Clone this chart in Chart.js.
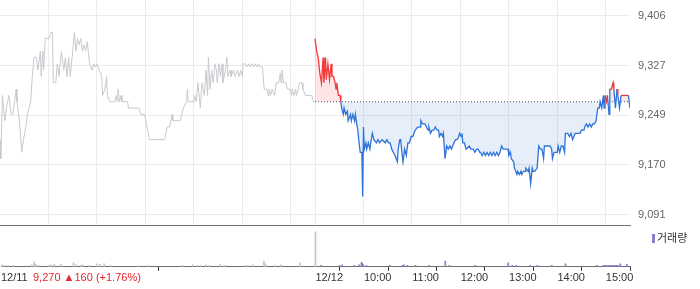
<!DOCTYPE html>
<html>
<head>
<meta charset="utf-8">
<script src="https://cdn.jsdelivr.net/npm/chart.js@4.4.1/dist/chart.umd.min.js"></script>
<style>
  body { margin: 0; background: #fff; width: 700px; height: 289px; overflow: hidden; position: relative; font-family: "Liberation Sans", Arial, sans-serif; }
  #main { position: absolute; left: 0; top: 0; }
  #vol { position: absolute; left: 0; top: 226px; }
  .chg { position: absolute; left: 33px; top: 271px; font-size: 11px; color: #e8262b; white-space: nowrap; }
  .lg { position: absolute; left: 652px; top: 229px; font-size: 11px; color: #333; font-family: "Noto Sans CJK KR", sans-serif; white-space: nowrap; }
  .lg i { display: inline-block; width: 3px; height: 9px; background: #8d7dc4; margin-right: 2px; vertical-align: -1px; }
</style>
</head>
<body>
<canvas id="main" width="700" height="226"></canvas>
<canvas id="vol" width="700" height="63"></canvas>
<div class="chg">9,270 ▲160 (+1.76%)</div>
<div class="lg"><i></i>거래량</div>
<script>
// 12/11 prices, minutes from 09:00
var day1Min = [0,1,3,6,8,11,14,16,20,21,24,27,29,32,34,36,38,40,42,45,47,50,51,53,54,56,58,61,63,65,66,69,71,73,76,79,81,83,85,87,90,92,94,96,98,100,102,104,106,108,111,114,116,118,120,123,126,127,130,132,133,136,142,144,145,146,148,150,151,158,159,172,174,179,182,184,185,204,207,210,213,214,223,225,227,231,232,233,240,241,243,245,248,250,253,255,257,258,260,262,264,266,268,269,271,273,275,276,279,281,282,285,286,289,291,294,296,298,300,301,304,306,308,310,312,314,316,318,320,322,325,327,330,332,333,335,337,340,342,345,347,348,349,351,354,356,359,361,362,364,366,367,369,371,374,375,378,386,388,390];
var day1Price = [9210,9180,9280,9240,9260,9280,9250,9250,9290,9270,9240,9190,9210,9230,9250,9260,9270,9310,9340,9340,9320,9350,9310,9350,9320,9370,9370,9370,9380,9380,9300,9300,9330,9310,9350,9320,9340,9310,9340,9310,9350,9380,9350,9370,9360,9370,9350,9360,9350,9365,9330,9320,9330,9325,9330,9320,9310,9280,9290,9310,9280,9270,9270,9280,9270,9290,9270,9280,9270,9270,9260,9260,9250,9250,9230,9220,9210,9210,9230,9230,9250,9240,9240,9250,9260,9270,9290,9270,9270,9280,9270,9300,9260,9300,9280,9320,9280,9340,9290,9320,9300,9330,9320,9300,9330,9310,9330,9300,9320,9340,9310,9320,9310,9320,9310,9320,9310,9320,9310,9330,9330,9325,9330,9325,9330,9325,9330,9325,9330,9325,9325,9290,9290,9280,9290,9280,9290,9280,9300,9300,9315,9300,9320,9300,9300,9290,9290,9280,9290,9280,9290,9280,9290,9300,9300,9290,9280,9280,9270,9270];

// 12/12 prices, minutes from 09:00
var day2Min = [0,2,4,6,8,10,11,13,14,16,18,20,21,23,25,26,27,29,31,32,33,35,36,38,40,41,44,45,47,49,50,51,53,55,56,58,59,60,61,63,64,66,68,69,71,73,76,78,80,83,87,89,91,93,95,97,99,102,103,105,106,108,109,111,113,115,117,119,121,124,127,130,131,133,136,138,140,141,143,145,147,149,151,153,154,156,158,159,161,163,165,167,169,172,174,176,178,179,181,182,183,185,187,188,191,193,196,198,200,202,204,205,207,209,211,213,215,217,219,221,223,225,227,229,231,233,236,239,240,242,243,246,247,250,251,253,255,256,258,260,261,264,265,267,269,270,272,275,277,279,281,283,284,291,293,294,296,298,300,301,303,305,307,309,310,313,315,317,319,322,328,330,333,334,336,338,340,342,344,346,348,350,352,353,355,357,358,359,361,362,364,365,367,369,370,372,374,375,377,379,388,390];
var day2Price = [9370,9350,9340,9315,9300,9340,9300,9340,9305,9330,9305,9330,9310,9310,9300,9290,9300,9280,9280,9270,9260,9250,9260,9250,9255,9240,9250,9240,9250,9240,9250,9240,9225,9200,9190,9190,9120,9230,9195,9205,9195,9205,9195,9205,9220,9210,9205,9210,9205,9210,9205,9210,9205,9205,9195,9190,9185,9175,9195,9210,9210,9185,9175,9195,9185,9205,9205,9215,9215,9225,9230,9230,9240,9235,9235,9230,9225,9230,9220,9225,9225,9230,9225,9225,9215,9220,9215,9220,9180,9200,9195,9200,9195,9205,9210,9210,9215,9220,9215,9220,9205,9205,9195,9195,9200,9195,9195,9190,9195,9195,9190,9190,9185,9190,9185,9190,9185,9190,9185,9190,9185,9190,9185,9190,9200,9195,9195,9195,9185,9190,9180,9175,9165,9155,9160,9155,9160,9155,9160,9160,9165,9160,9165,9140,9165,9160,9160,9165,9200,9195,9195,9180,9200,9200,9195,9180,9190,9190,9190,9200,9190,9200,9200,9190,9220,9220,9215,9220,9210,9220,9220,9225,9225,9230,9235,9230,9235,9230,9235,9235,9240,9260,9260,9270,9260,9280,9260,9280,9270,9280,9250,9290,9290,9300,9290,9260,9290,9280,9260,9280,9280,9260];

var prevClose = 9270;
var yTicks = [9091, 9170, 9249, 9327, 9406];

// volume (minutes on the 2-day axis)
var vol1Min = [1,4,9,15,38,41,43,46,59,62,66,74,90,93,99,101,109,119,123,128,136,170,183,225,238,244,248,254,258,272,277,302,306,312,326,328,340,347,371];
var vol1 = [20,15,15,15,20,50,25,15,15,20,25,25,40,20,15,20,15,30,25,30,15,10,15,15,20,15,15,20,15,25,15,15,15,20,60,30,15,20,40];
var openVol = 360;
var vol2Min = [397,420,423,438,444,447,448,449,453,482,498,500,504,514,531,551,556,588,629,634,639,656,665,683,700,739,747,749,751,753,755,757,759,761,763,765,768,776];
var vol2 = [15,15,20,15,20,45,35,25,15,15,15,20,15,15,15,60,15,15,40,15,15,15,15,15,30,15,15,15,15,15,15,15,15,15,15,15,30,25];

var xGrid = [60,120,180,240,300,360,390,450,510,570,630,690,750];
var volTicks = [0,390,450,510,570,630,690,750];
var volTickLabels = ['12/11','12/12','10:00','11:00','12:00','13:00','14:00','15:00'];

Chart.defaults.font.family = '"Liberation Sans", Arial, sans-serif';
Chart.defaults.font.size = 11;

var red = '#f23a3a';
var blue = '#2e73d8';

function pts(xs, ys, off) {
    return xs.map(function(x, i) { return { x: x + off, y: ys[i] }; });
}

new Chart(document.getElementById('main'), {
    type: 'line',
    data: {
        datasets: [{
            data: pts(day1Min, day1Price, 0),
            borderColor: '#c7cace',
            borderWidth: 1,
            pointRadius: 0,
            fill: false
        }, {
            data: pts(day2Min, day2Price, 390),
            borderWidth: 1.3,
            pointRadius: 0,
            borderColor: blue,
            fill: { target: { value: prevClose }, above: 'rgba(255,80,80,0.15)', below: 'rgba(60,120,215,0.13)' },
            segment: {
                borderColor: function(ctx) {
                    return (ctx.p0.parsed.y >= prevClose && ctx.p1.parsed.y >= prevClose) ? red : blue;
                }
            }
        }, {
            data: [{ x: 390, y: prevClose }, { x: 780, y: prevClose }],
            borderColor: '#555',
            borderWidth: 1,
            borderDash: [1, 2],
            pointRadius: 0,
            fill: false
        }]
    },
    options: {
        responsive: false,
        animation: false,
        plugins: { legend: { display: false }, tooltip: { enabled: false } },
        scales: {
            x: {
                type: 'linear', min: 0, max: 780,
                afterBuildTicks: function(s) { s.ticks = xGrid.map(function(v) { return { value: v }; }); },
                afterFit: function(s) { s.height = 1; s.paddingLeft = 0; s.paddingRight = 0; },
                ticks: { display: false },
                grid: { color: '#ebebeb', drawTicks: false },
                border: { color: '#6e6e6e' }
            },
            y: {
                position: 'right',
                min: 9075, max: 9431,
                afterBuildTicks: function(s) { s.ticks = yTicks.map(function(v) { return { value: v }; }); },
                afterFit: function(s) { s.width = 70; s.paddingTop = 0; s.paddingBottom = 0; },
                ticks: {
                    padding: 8, color: '#666',
                    callback: function(v) { return v.toLocaleString('en-US'); }
                },
                grid: { color: '#ebebeb', drawTicks: false },
                border: { display: false }
            }
        }
    }
});

new Chart(document.getElementById('vol'), {
    type: 'bar',
    data: {
        datasets: [
            { data: pts(vol1Min, vol1, 0), backgroundColor: '#c4c4c4', barThickness: 1 },
            { data: [{ x: 390, y: openVol }], backgroundColor: '#c4c4c4', barThickness: 1 },
            { data: pts(vol2Min, vol2, 0), backgroundColor: '#8d7dc4', barThickness: 1 }
        ]
    },
    options: {
        responsive: false,
        animation: false,
        layout: { padding: { right: 70, top: 1, bottom: 3 } },
        datasets: { bar: { grouped: false } },
        plugins: { legend: { display: false }, tooltip: { enabled: false } },
        scales: {
            x: {
                type: 'linear', min: 0, max: 780, offset: false,
                afterBuildTicks: function(s) { s.ticks = volTicks.map(function(v) { return { value: v }; }); },
                ticks: {
                    align: 'start', padding: 1, color: '#333', autoSkip: false, maxRotation: 0,
                    callback: function(v) { return volTickLabels[volTicks.indexOf(v)]; }
                },
                grid: { drawOnChartArea: false, tickLength: 4, color: '#333' },
                border: { color: '#6e6e6e' }
            },
            y: { display: false, min: 0, max: 410 }
        }
    }
});
</script>
</body>
</html>
